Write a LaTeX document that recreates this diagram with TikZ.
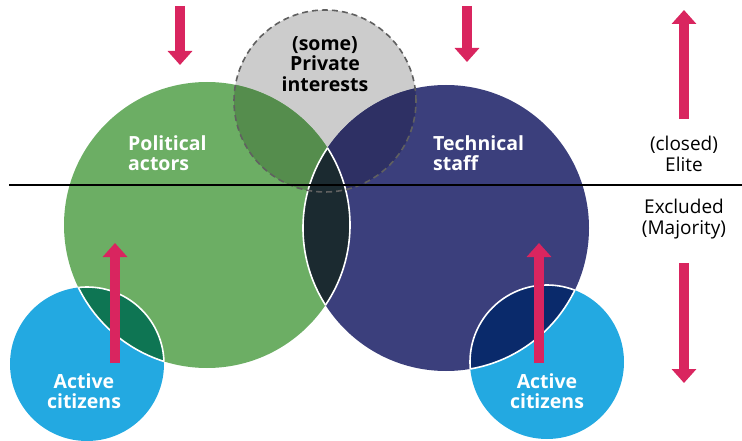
\documentclass[tikz,border=0pt]{standalone}
\usepackage{fontspec}
\setmainfont{Open Sans}
\usetikzlibrary{arrows.meta}
\definecolor{polgreen}{HTML}{6CAE64}
\definecolor{technavy}{HTML}{3B3F7C}
\definecolor{privgrey}{HTML}{CCCCCC}
\definecolor{citblue}{HTML}{23A9E1}
\definecolor{pgmix}{HTML}{558D4D}
\definecolor{tgmix}{HTML}{2E3064}
\definecolor{ptmix}{HTML}{1B2A30}
\definecolor{pcmix}{HTML}{0E7553}
\definecolor{tcmix}{HTML}{0A2A6B}
\definecolor{crimson}{HTML}{D9255F}

\begin{document}
\begin{tikzpicture}[x=1pt,y=-1pt,
  lab/.style={font=\bfseries\fontsize{19.5}{20.5}\selectfont,text=white,align=left,inner sep=0pt},
  side/.style={font=\fontsize{19}{20.5}\selectfont,align=center,inner sep=0pt},
  push/.style={line width=10pt,crimson,-{Triangle[width=24pt,length=14pt]}},
  lens/.style={draw=white,line width=1.6pt}]
  \useasboundingbox (0,0) rectangle (742,441);
  \def\rbig{143pt} \def\rgrey{91pt} \def\rcit{77pt}
  \coordinate (pol) at (207,225); \coordinate (tech) at (446,228);
  \coordinate (priv) at (325,101);
  \coordinate (citL) at (87,364); \coordinate (citR) at (547,362);
  % base circles
  \fill[privgrey] (priv) circle[radius=\rgrey];
  \fill[polgreen] (pol) circle[radius=\rbig];
  \fill[technavy] (tech) circle[radius=\rbig];
  \begin{scope}
    \clip (priv) circle[radius=\rgrey];
    \fill[pgmix] (pol) circle[radius=\rbig];
    \fill[tgmix] (tech) circle[radius=\rbig];
  \end{scope}
  \begin{scope}
    \clip (pol) circle[radius=\rbig];
    \fill[ptmix] (tech) circle[radius=\rbig];
    \draw[lens] (tech) circle[radius=\rbig];
  \end{scope}
  \begin{scope}
    \clip (tech) circle[radius=\rbig];
    \draw[lens] (pol) circle[radius=\rbig];
  \end{scope}
  \draw[gray!75!black,line width=1.6pt,dash pattern=on 6pt off 4pt] (priv) circle[radius=\rgrey];
  % citizens
  \fill[citblue] (citL) circle[radius=\rcit];
  \fill[citblue] (citR) circle[radius=\rcit];
  \begin{scope}
    \clip (pol) circle[radius=\rbig];
    \fill[pcmix] (citL) circle[radius=\rcit];
    \draw[lens] (citL) circle[radius=\rcit];
  \end{scope}
  \begin{scope}
    \clip (citL) circle[radius=\rcit];
    \draw[lens] (pol) circle[radius=\rbig];
  \end{scope}
  \begin{scope}
    \clip (tech) circle[radius=\rbig];
    \fill[tcmix] (citR) circle[radius=\rcit];
    \draw[lens] (citR) circle[radius=\rcit];
  \end{scope}
  \begin{scope}
    \clip (citR) circle[radius=\rcit];
    \draw[lens] (tech) circle[radius=\rbig];
  \end{scope}
  % divide
  \coordinate (cutL) at (9,185); \coordinate (cutR) at (742,185);
  \draw[line width=2.2pt] (cutL) -- (cutR);
  % arrows
  \coordinate (polA) at (180,6); \coordinate (polB) at (180,65);
  \coordinate (techA) at (467,6); \coordinate (techB) at (467,62);
  \coordinate (eliteA) at (684,119); \coordinate (eliteB) at (684,10);
  \coordinate (exclA) at (684,263); \coordinate (exclB) at (684,383);
  \coordinate (citLA) at (115,363); \coordinate (citLB) at (115,243);
  \coordinate (citRA) at (539,363); \coordinate (citRB) at (539,243);
  \draw[push] (polA) -- (polB); \draw[push] (techA) -- (techB);
  \draw[push] (eliteA) -- (eliteB); \draw[push] (exclA) -- (exclB);
  \draw[push] (citLA) -- (citLB); \draw[push] (citRA) -- (citRB);
  % labels
  \node[lab,anchor=west] (polT) at (128,153) {Political\\actors};
  \node[lab,anchor=west] (techT) at (433,153) {Technical\\staff};
  \node[lab,align=center,text=black] (privT) at (325,64) {(some)\\Private\\interests};
  \node[lab,align=center] (citLT) at (84,391) {Active\\citizens};
  \node[lab,align=center] (citRT) at (547,391) {Active\\citizens};
  \node[side] (eliteT) at (684,154) {(closed)\\Elite};
  \node[side] (exclT) at (684,219) {Excluded\\(Majority)};
\end{tikzpicture}
\end{document}
